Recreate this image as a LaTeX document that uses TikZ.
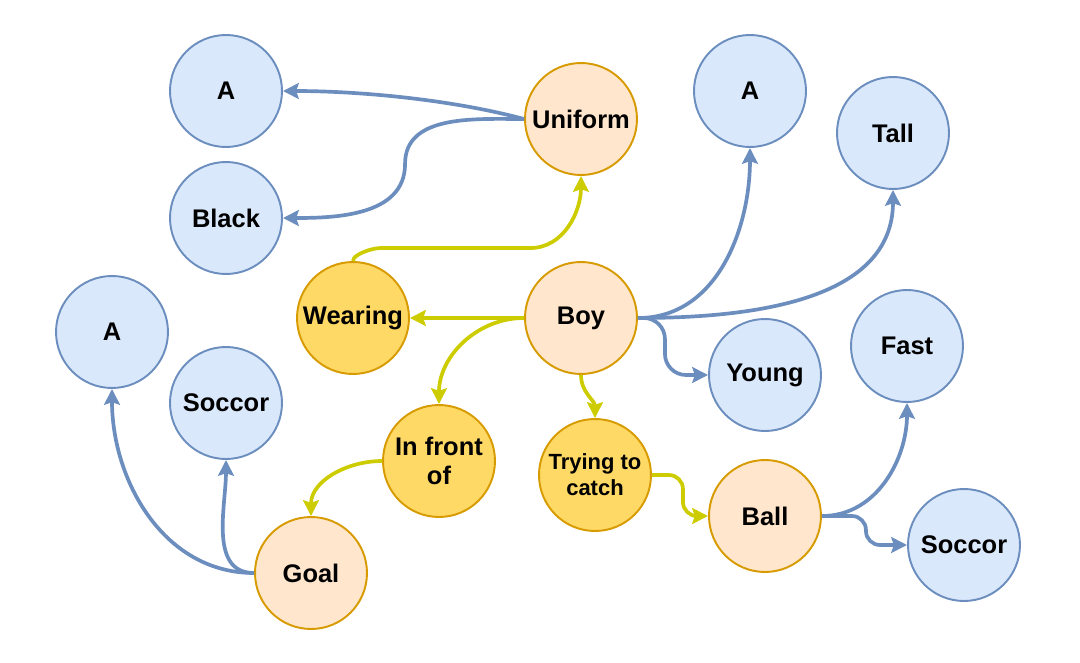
\documentclass[tikz,border=0pt]{standalone}
\usepackage{fontspec}
\setmainfont{Liberation Sans}
\usetikzlibrary{arrows.meta, positioning}

\definecolor{attrfill}{HTML}{DAE8FC}
\definecolor{attrdraw}{HTML}{6C8EBF}
\definecolor{objfill}{HTML}{FFE6CC}
\definecolor{objdraw}{HTML}{D79B00}
\definecolor{relfill}{HTML}{FFD966}
\definecolor{relline}{HTML}{CCCC00}

\begin{document}
\begin{tikzpicture}[
  x=0.02cm, y=-0.02cm,
  >={Stealth[length=9pt,width=9pt,inset=1.5pt]},
  font=\bfseries\fontsize{14.5}{16.4}\selectfont,
  attr/.style={
    circle,
    draw=attrdraw, line width=1.1pt,
    fill=attrfill,
    minimum size=2.24cm, inner sep=0pt,
    align=center
  },
  obj/.style={attr, draw=objdraw, fill=objfill},
  rel/.style={attr, draw=objdraw, fill=relfill},
  bluearrow/.style={->, draw=attrdraw, line width=2.1pt},
  yellowarrow/.style={->, draw=relline, line width=2.1pt}
]
\useasboundingbox (0,0) rectangle (1080,663);

\node[attr] (a1) at (226,91) {A};
\node[attr] (black) at (226,218) {Black};
\node[obj] (uniform) at (581,119) {Uniform};
\node[attr] (a2) at (750,91) {A};
\node[attr] (tall) at (893,133) {Tall};

\node[rel] (wearing) at (353,318) {Wearing};
\node[obj] (boy) at (581,318) {Boy};
\node[attr] (young) at (765,375) {Young};
\node[attr] (fast) at (907,346) {Fast};

\node[attr] (a3) at (112,332) {A};
\node[attr] (soccor1) at (226,403) {Soccor};
\node[rel] (infront) at (439,461) {In front\\of};
\node[rel, font=\bfseries\fontsize{12.5}{14.7}\selectfont] (trying) at (595,475) {Trying to\\catch};
\node[obj] (ball) at (765,516) {Ball};
\node[attr] (soccor2) at (964,545) {Soccor};
\node[obj] (goal) at (311,573) {Goal};

\draw[bluearrow] (uniform.west) to[out=165,in=0,looseness=0.8] (a1.east);
\draw[bluearrow] (uniform.west) to[out=180,in=90] ++(-119,45) to[out=-90,in=0] (black.east);
\draw[yellowarrow] (wearing.north) to[out=90,in=180,looseness=0.6] ++(27,-13) -- ++(150,0) to[out=0,in=-90] (uniform.south);

\draw[yellowarrow] (boy.west) -- (wearing.east);
\draw[yellowarrow] (boy.west) to[out=180,in=90] (infront.north);
\draw[yellowarrow] (boy.south) to[out=-90,in=90] (trying.north);
\draw[yellowarrow, rounded corners=8pt] (trying.east) -- ++(31,0) |- (ball.west);
\draw[yellowarrow] (infront.west) to[out=180,in=90] (goal.north);

\draw[bluearrow] (goal.west) to[out=180,in=-90] (a3.south);
\draw[bluearrow] (goal.west) to[out=180,in=-90] (soccor1.south);

\draw[bluearrow] (boy.east) to[out=0,in=-90] (a2.south);
\draw[bluearrow] (boy.east) to[out=0,in=-90] (tall.south);
\draw[bluearrow, rounded corners=12pt] (boy.east) -- ++(27,0) |- (young.west);

\draw[bluearrow] (ball.east) to[out=0,in=-90] (fast.south);
\draw[bluearrow, rounded corners=8pt] (ball.east) -- ++(44,0) |- (soccor2.west);

\end{tikzpicture}
\end{document}
